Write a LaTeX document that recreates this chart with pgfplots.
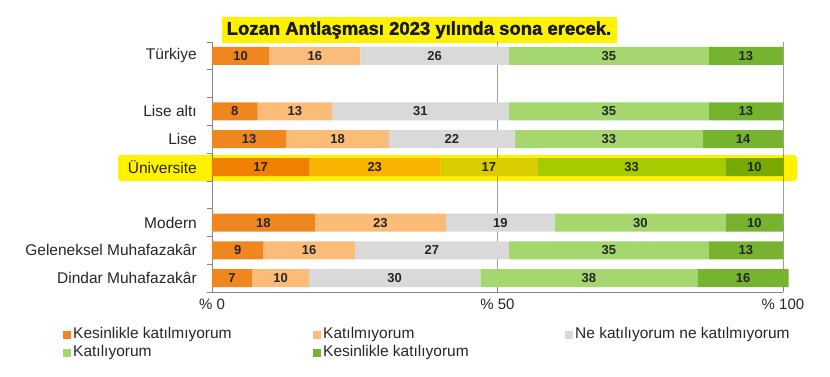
\documentclass[border=0pt]{standalone}
\usepackage{pgfplots}
\pgfplotsset{compat=1.18}
\usepackage{pgfplotstable}
\usepackage{fontspec}
\setmainfont{Liberation Sans}
\newfontfamily\titlefont{Liberation Sans}[BoldFeatures={FakeBold=1.5}]
\definecolor{c1}{RGB}{240,135,30}
\definecolor{c2}{RGB}{250,188,120}
\definecolor{c3}{RGB}{217,217,217}
\definecolor{c4}{RGB}{165,215,110}
\definecolor{c5}{RGB}{118,180,48}
\definecolor{hl}{RGB}{255,242,0}
\definecolor{axgray}{RGB}{134,134,134}
\definecolor{txt}{RGB}{38,38,38}
\pgfplotstableread{
pos a b c d e
8 10 16 26 35 13
6 8 13 31 35 13
5 13 18 22 33 14
4 17 23 17 33 10
2 18 23 19 30 10
1 9 16 27 35 13
0 7 10 30 38 16
}\data
\begin{document}
\begin{tikzpicture}[x=1pt,y=1pt]
\path[use as bounding box] (0,0) rectangle (830,-376);
\fill[hl] (222,-17) rectangle (617,-43);
\node[font=\titlefont\fontsize{18.5}{20}\selectfont\bfseries, text=black!90, inner sep=0pt] at (419,-30) {Lozan Antlaşması 2023 yılında sona erecek.};
\begin{axis}[
  at={(212pt,-292pt)}, anchor=south west,
  scale only axis, width=571pt, height=250pt,
  clip=false,
  xbar stacked, bar width=18pt,
  xmin=0, xmax=100, ymin=-0.5, ymax=8.5,
  axis x line*=bottom, axis y line*=left,
  axis line style={axgray, line width=0.6pt, -},
  tick style={axgray, line width=0.6pt},
  major tick length=5pt,
  xtick={0,50,100}, xticklabels={\% 0,\% 50,\% 100},
  xtick align=inside, ytick align=outside,
  xticklabel style={font=\fontsize{15}{15}\selectfont, text=txt, yshift=-3pt},
  xmajorgrids, major grid style={axgray!80, line width=0.5pt},
  ytick={-0.5,0.5,...,8.5}, yticklabels={},
  extra y ticks={0,1,2,4,5,6,8},
  extra y tick labels={Dindar Muhafazakâr, Geleneksel Muhafazakâr, Modern, Üniversite, Lise, Lise altı, Türkiye},
  extra y tick style={major tick length=0pt, yticklabel style={font=\fontsize{15.5}{15.5}\selectfont, text=txt, inner sep=0pt, xshift=-15pt}},
  every axis plot/.append style={draw=none},
  nodes near coords={\pgfmathprintnumber[assume math mode=true]{\rawx}},
  visualization depends on=rawx \as \rawx,
  nodes near coords align=center,
  every node near coord/.append style={anchor=center, font=\fontsize{13}{13}\selectfont\bfseries, text=black!85},
  legend columns=3,
  legend style={at={(0,0)}, anchor=north west, xshift=-149pt, yshift=-35pt, draw=none, fill=none, inner sep=0pt,
    font=\fontsize{15.5}{18}\selectfont, text=txt, nodes={inner sep=0pt, text height=11pt, text depth=3pt, anchor=west}, row sep=4pt, column sep=0pt},
  legend image code/.code={\fill[#1,draw=none] (0pt,-5pt) rectangle (8pt,3pt);\path (10pt,0pt);},
]
\addplot[fill=c1] table[x=a,y=pos]{\data};
\addlegendentry{\makebox[240pt][l]{Kesinlikle katılmıyorum}}
\addplot[fill=c2] table[x=b,y=pos]{\data};
\addlegendentry{\makebox[242pt][l]{Katılmıyorum}}
\addplot[fill=c3] table[x=c,y=pos]{\data};
\addlegendentry{Ne katılıyorum ne katılmıyorum}
\addplot[fill=c4] table[x=d,y=pos]{\data};
\addlegendentry{Katılıyorum}
\addplot[fill=c5] table[x=e,y=pos]{\data};
\addlegendentry{Kesinlikle katılıyorum}
\end{axis}
\fill[hl, blend mode=multiply, rounded corners=3pt] (118,-155) rectangle (797,-181);
\end{tikzpicture}
\end{document}
